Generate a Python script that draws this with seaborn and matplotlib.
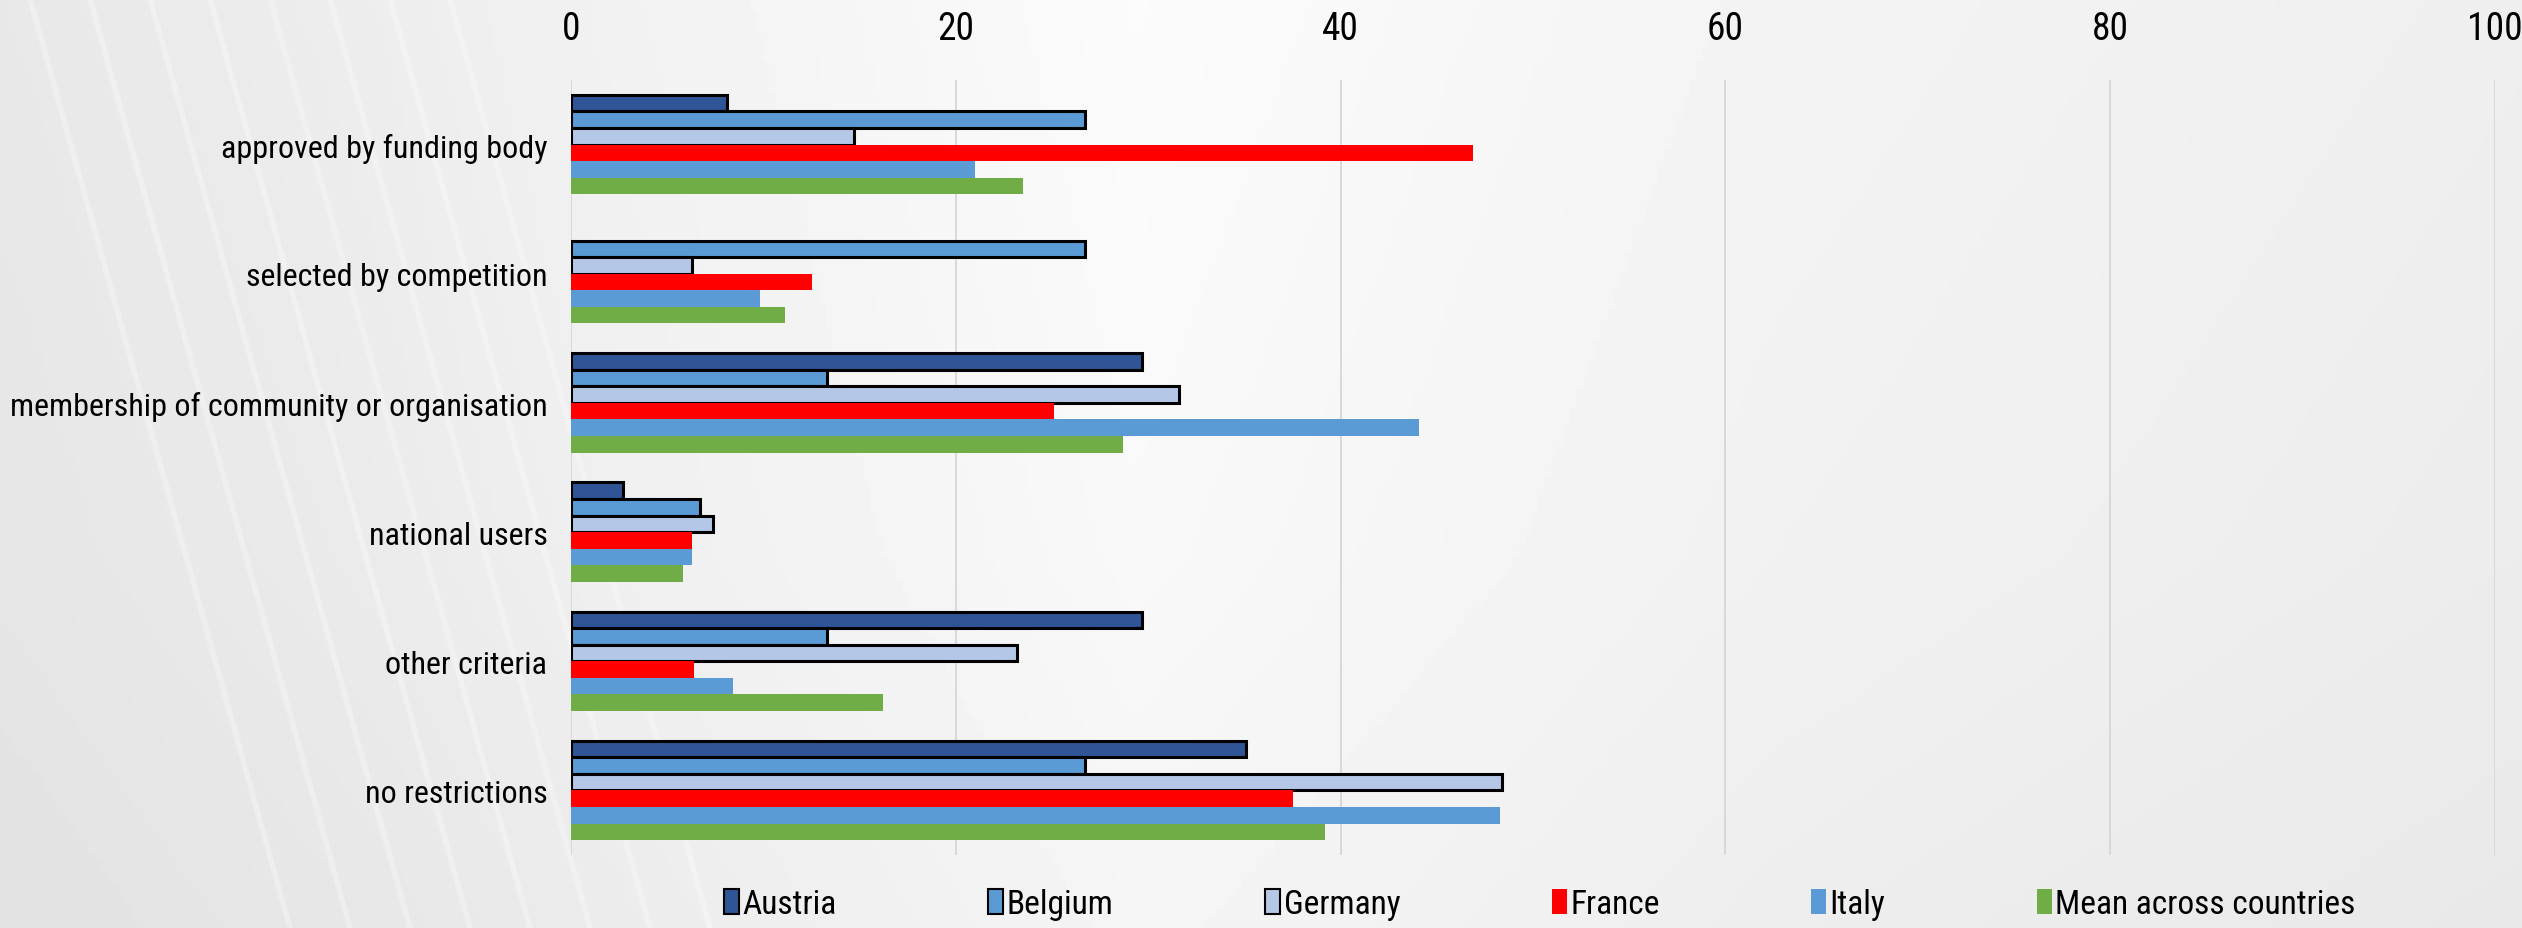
import numpy as np
import pandas as pd
import matplotlib.pyplot as plt
import seaborn as sns
from matplotlib.patches import Patch, Arc

# Данные (значения в %)
criteria = ['approved by funding body', 'selected by competition',
            'membership of community or organisation', 'national users',
            'other criteria', 'no restrictions']
countries = ['Austria', 'Belgium', 'Germany', 'France', 'Italy', 'Mean across countries']

austria = [8.1, 0.0, 29.7, 2.7, 29.7, 35.1]
belgium = [26.7, 26.7, 13.3, 6.7, 13.3, 26.7]
germany = [14.7, 6.3, 31.6, 7.4, 23.2, 48.4]
france = [46.9, 12.5, 25.1, 6.3, 6.4, 37.5]
italy = [21.0, 9.8, 44.1, 6.3, 8.4, 48.3]
mean_all = [23.5, 11.1, 28.7, 5.8, 16.2, 39.2]

colors = ['#2F5597', '#5B9BD5', '#B4C7E7', '#FF0000', '#5B9BD5', '#70AD47']
outlined = ['Austria', 'Belgium', 'Germany']

series = [austria, belgium, germany, france, italy, mean_all]
rows = []
for country, vals in zip(countries, series):
    for crit, v in zip(criteria, vals):
        rows.append({'Criterion': crit, 'Country': country, 'Value': v})
df = pd.DataFrame(rows)

sns.set_style('white')
plt.rcParams['font.family'] = ['Roboto Condensed', 'Liberation Sans', 'DejaVu Sans']
plt.rcParams['text.color'] = 'black'
plt.rcParams['xtick.color'] = 'black'
plt.rcParams['ytick.color'] = 'black'

W, H = 2522, 929
fig = plt.figure(figsize=(W / 100, H / 100), dpi=100)
fig.patch.set_facecolor('#f0f0f0')

# Фон: светлый градиент с белыми дугами
ax_bg = fig.add_axes([0, 0, 1, 1], zorder=-1)
xx = np.linspace(0, 1, 400)
yy = np.linspace(0, 1, 150)
gx = np.interp(xx, [0, 0.15, 0.45, 0.7, 1], [0.91, 0.93, 0.985, 0.955, 0.935])
gy = np.interp(yy, [0, 0.6, 1], [1.0, 0.99, 0.975])
grad = np.outer(gy, gx)
ax_bg.imshow(grad, cmap='gray', vmin=0, vmax=1, extent=[0, W, H, 0], aspect='auto')
for r in range(850, 2300, 130):
    ax_bg.add_patch(Arc((700, 1550), 2 * r, 2 * r, theta1=0, theta2=90,
                        color='white', lw=9, alpha=0.75))
for k in range(8):
    x0 = 30 + k * 60
    ax_bg.plot([x0, x0 + 260], [0, H], color='white', lw=4, alpha=0.3)
ax_bg.set_xlim(0, W)
ax_bg.set_ylim(H, 0)
ax_bg.axis('off')

ax = fig.add_axes([571 / W, 1 - 856 / H, (2495 - 571) / W, (856 - 81) / H])
ax.set_facecolor('none')

sns.barplot(data=df, x='Value', y='Criterion', hue='Country', hue_order=countries,
            palette=colors, orient='h', width=0.77, ax=ax, legend=False,
            saturation=1, linewidth=0)

# Чёрная обводка для первых трёх стран
for country, cont in zip(countries, ax.containers):
    if country in outlined:
        for bar in cont:
            if bar.get_width() > 0:
                bar.set_edgecolor('black')
                bar.set_linewidth(2.2)

ax.set_xlim(0, 100)
ax.set_xticks([0, 20, 40, 60, 80, 100])
ax.xaxis.tick_top()
ax.grid(axis='x', color='#d6d6d6', linewidth=1.3)
ax.set_axisbelow(True)
for s in ax.spines.values():
    s.set_visible(False)
ax.tick_params(axis='x', length=0, pad=24, labelsize=27)
ax.tick_params(axis='y', length=0, pad=17, labelsize=23)
ax.set_xlabel('')
ax.set_ylabel('')

handles = []
for country, c in zip(countries, colors):
    ec = 'black' if country in outlined else c
    handles.append(Patch(facecolor=c, edgecolor=ec, linewidth=1.5 if country in outlined else 0,
                         label=country))
fig.legend(handles=handles, loc='center', bbox_to_anchor=(1540 / W, 1 - 905 / H),
           ncol=6, frameon=False, fontsize=24, columnspacing=4.55,
           handlelength=0.45, handleheight=0.8, handletextpad=0.1)

plt.savefig('out.png', dpi=100, facecolor=fig.get_facecolor())
